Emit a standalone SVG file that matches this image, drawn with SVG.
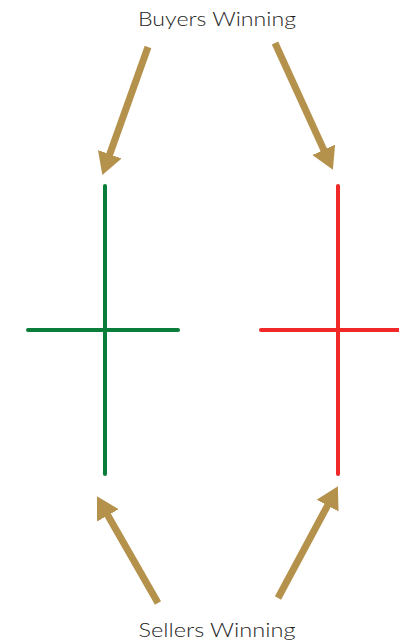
<svg xmlns="http://www.w3.org/2000/svg" width="399" height="642" viewBox="0 0 399 642">
<style>
.lbl{font-family:"Lato","Open Sans",sans-serif;font-size:20px;font-weight:300;fill:#1e1e1e;text-anchor:middle}
.arr{stroke:#B5924C;stroke-width:7;fill:none;marker-end:url(#head)}
.g{stroke:#0A7D3A;stroke-width:4;stroke-linecap:round}
.r{stroke:#F02828;stroke-width:4;stroke-linecap:round}
</style>
<defs>
<marker id="head" markerUnits="userSpaceOnUse" markerWidth="23" markerHeight="26" refX="4" refY="12.5" orient="auto" viewBox="0 0 23 26">
<path d="M0,0 L22,12.5 L0,25 z" fill="#B5924C"/>
</marker>
</defs>
<rect width="399" height="642" fill="#fff"/>
<g id="label-buyers"><text class="lbl" x="217" y="26" textLength="158" lengthAdjust="spacingAndGlyphs">Buyers Winning</text></g>
<g id="label-sellers"><text class="lbl" x="217" y="637" textLength="157" lengthAdjust="spacingAndGlyphs">Sellers Winning</text></g>
<g id="green-doji">
<line class="g" x1="105" y1="186" x2="105" y2="474"/>
<line class="g" x1="28" y1="330" x2="178" y2="330"/>
</g>
<g id="red-doji">
<line class="r" x1="338" y1="186" x2="338" y2="474"/>
<line class="r" x1="261" y1="330" x2="402" y2="330"/>
</g>
<g id="connectors">
<line class="arr" x1="148" y1="47" x2="108.4" y2="158"/>
<line class="arr" x1="275" y1="43" x2="325.4" y2="153.4"/>
<line class="arr" x1="158" y1="603" x2="105.9" y2="511.9"/>
<line class="arr" x1="278" y1="598" x2="329.4" y2="502.1"/>
</g>
</svg>
